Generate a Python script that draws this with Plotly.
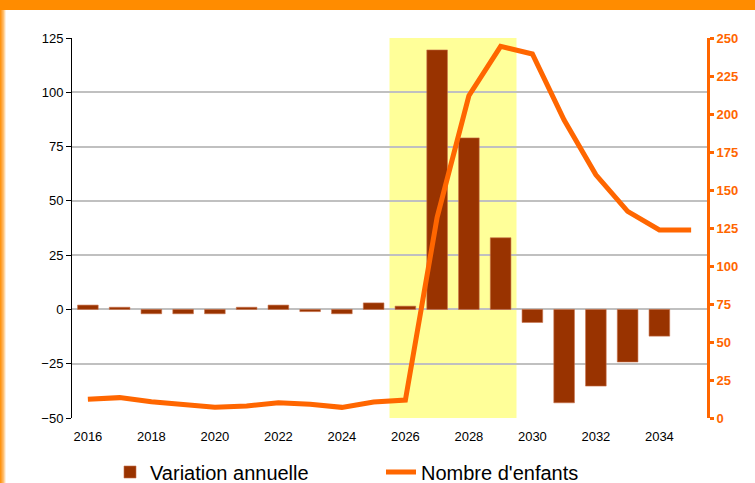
import plotly.graph_objects as go

years = list(range(2016, 2036))
variation = [2, 1, -2, -2, -2, 1, 2, -1, -2, 3, 1.5, 119.5, 79, 33, -6, -43, -35.3, -24.2, -12.3, None]
enfants = [12.3, 13.4, 10.7, 9.2, 7, 7.9, 10, 9, 7, 10.5, 11.8, 132, 212, 244.5, 239.5, 196, 160, 136, 123.7, 123.7]
xtick_vals = list(range(2016, 2035, 2))
xtick_text = [str(v) for v in xtick_vals]
boundaries = [y + 0.5 for y in range(2016, 2035)]
highlight = (2025.5, 2029.5)

W, H = 755, 483
ml, mr, mt, mb = 72, 48, 38, 65
pw, ph = W - ml - mr, H - mt - mb

fig = go.Figure()
fig.add_trace(go.Bar(
    x=years, y=variation, name="Variation annuelle",
    marker=dict(color="#993300", line=dict(color="#C8704A", width=0.6)),
    width=0.65, yaxis="y",
))
fig.add_trace(go.Scatter(
    x=years, y=enfants, name="Nombre d'enfants", mode="lines",
    line=dict(color="#FF6600", width=5), yaxis="y2",
))

def px_x(p):
    return (p - ml) / pw

def px_y(p):
    return (H - mb - p) / ph

shapes = [
    dict(type="rect", xref="x", yref="paper", x0=highlight[0], x1=highlight[1], y0=0, y1=1,
         fillcolor="#FFFF99", line=dict(width=0), layer="below"),
    dict(type="rect", xref="paper", yref="paper", x0=px_x(0), x1=px_x(W), y0=px_y(10), y1=px_y(0),
         fillcolor="#FF8C00", line=dict(width=0)),
]
grad = ["#FF9410", "#FFA030", "#FFB050", "#FFC070", "#FFD8A8", "#FFF0DD"]
for i, c in enumerate(grad):
    shapes.append(dict(type="rect", xref="paper", yref="paper", x0=px_x(i), x1=px_x(i + 1),
                       y0=px_y(H), y1=px_y(10), fillcolor=c, line=dict(width=0)))

fig.update_layout(
    width=W, height=H,
    margin=dict(l=ml, r=mr, t=mt, b=mb, pad=0, autoexpand=False),
    paper_bgcolor="white", plot_bgcolor="rgba(0,0,0,0)",
    font=dict(family="Liberation Sans, Arial, sans-serif", color="black", size=13),
    shapes=shapes,
    showlegend=True,
    legend=dict(orientation="h", x=px_x(110), y=px_y(472), xanchor="left", yanchor="middle",
                font=dict(size=20, color="black"), entrywidth=226, entrywidthmode="pixels",
                bgcolor="rgba(0,0,0,0)", itemwidth=30, tracegroupgap=0),
    xaxis=dict(range=[2015.5, 2035.5], tickvals=xtick_vals, ticktext=xtick_text,
               showgrid=False, zeroline=False, showline=False, ticks="",
               tickfont=dict(size=13), ticklabelstandoff=9),
    xaxis2=dict(range=[2015.5, 2035.5], overlaying="x", anchor="free", position=50 / 175,
                side="bottom", tickvals=boundaries, showticklabels=False, ticks="outside",
                ticklen=4, tickcolor="black", tickwidth=1, showline=True, linecolor="#222222",
                linewidth=1, showgrid=False, zeroline=False),
    yaxis=dict(range=[-50, 125], dtick=25, tick0=0, showgrid=True, gridcolor="#C0C0C0", gridwidth=1.5,
               zeroline=False, showline=True, linecolor="black", linewidth=1,
               ticks="outside", ticklen=5, tickcolor="black", tickfont=dict(size=13)),
    yaxis2=dict(range=[0, 250], dtick=25, overlaying="y", side="right", showgrid=False,
                zeroline=False, showline=True, linecolor="#FF6600", linewidth=3,
                ticks="outside", ticklen=4, tickwidth=3, tickcolor="#FF6600",
                tickfont=dict(size=13, color="#FF6600", family="Liberation Sans, Arial, sans-serif", weight="bold")),
)

fig.write_html("out.html", config={"displayModeBar": False},
               post_script="document.body.style.margin='0';document.body.style.padding='0';")
